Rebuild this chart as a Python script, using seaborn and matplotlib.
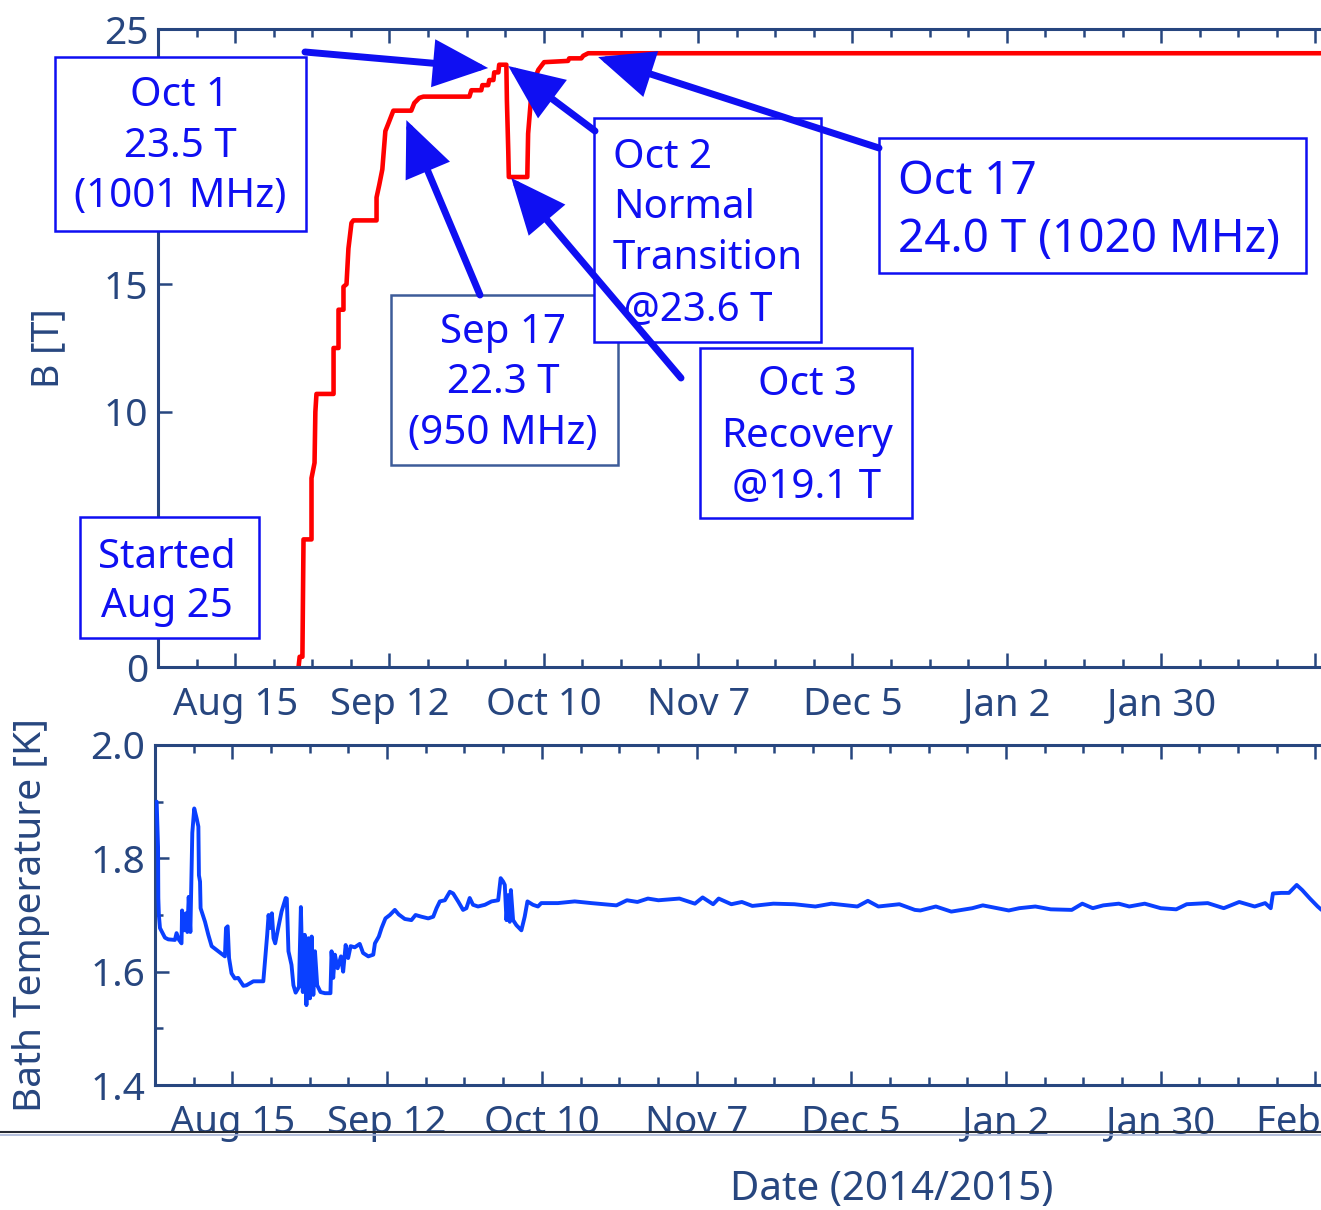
import matplotlib
matplotlib.use("Agg")
import matplotlib.pyplot as plt
import matplotlib.dates as mdates
from matplotlib.patches import Rectangle, FancyArrowPatch
from matplotlib.lines import Line2D
from matplotlib.ticker import NullLocator
import numpy as np
import pandas as pd
import seaborn as sns

# ---------------------------------------------------------------------------
# Data: days counted from 2014-08-01 00:00
# ---------------------------------------------------------------------------
START = pd.Timestamp("2014-08-01")

# Central field of the magnet [T]
field_day = [25.5, 25.7, 26.2, 26.4, 27.85, 27.85, 28.4, 28.55, 28.75, 31.85,
             31.85, 32.75, 32.75, 33.65, 33.65, 34.2, 34.55, 35.1, 35.45, 39.65,
             39.65, 40.15, 40.7, 41.25, 41.8, 42.7, 45.95, 46.5, 47.4, 48.15,
             56.5, 56.85, 58.65, 58.85, 59.9, 60.1, 60.85, 61.0, 61.75, 61.9,
             63.2, 63.3, 63.55, 63.65, 67.0, 67.15, 67.7, 68.25, 69.0, 70.05,
             74.4, 74.6, 76.8, 77.15, 78.05, 211.0]
field_tesla = [0.0, 0.4, 0.4, 5.0, 5.0, 7.4, 8.0, 10.0, 10.7, 10.7,
               12.5, 12.5, 14.0, 14.0, 14.9, 15.0, 16.4, 17.4, 17.5, 17.5,
               18.4, 18.9, 19.5, 21.0, 21.3, 21.8, 21.8, 22.1, 22.3, 22.35,
               22.35, 22.6, 22.6, 22.8, 22.8, 23.0, 23.0, 23.3, 23.3, 23.6,
               23.6, 22.2, 20.2, 19.2, 19.2, 20.9, 22.35, 23.0, 23.4, 23.7,
               23.75, 23.85, 23.85, 23.95, 24.05, 24.05]

# Helium bath temperature [K]
temp_day = [0.3, 0.55, 0.6, 0.7, 0.9, 1.8, 2.4, 3.6, 3.9, 4.35,
            4.8, 4.9, 5.25, 5.6, 5.85, 6.1, 6.4, 6.75, 7.1, 7.55,
            7.85, 7.95, 8.15, 8.25, 9.05, 9.65, 10.25, 11.45, 12.65, 12.85,
            13.15, 13.4, 13.85, 14.45, 15.05, 16.0, 16.55, 17.8, 19.6, 20.0,
            20.3, 20.55, 20.85, 21.15, 21.45, 21.75, 22.05, 22.9, 23.65, 23.85,
            24.15, 24.7, 25.05, 25.45, 26.05, 26.4, 26.75, 27.1, 27.4, 27.75,
            28.05, 28.35, 28.65, 28.95, 29.35, 29.95, 30.75, 31.75, 31.95, 32.25,
            32.55, 33.05, 33.65, 34.05, 34.5, 34.95, 35.4, 36.15, 37.05, 37.65,
            38.6, 39.5, 39.8, 40.5, 41.0, 41.7, 42.5, 43.4, 44.1, 45.2,
            46.4, 47.15, 48.2, 49.45, 50.35, 50.95, 51.55, 52.45, 53.35, 53.95,
            54.85, 55.75, 56.35, 56.95, 57.55, 58.45, 59.7, 60.9, 62.1, 62.55,
            63.0, 63.3, 63.6, 63.9, 64.2, 64.4, 64.8, 65.4, 66.3, 66.9,
            67.4, 68.4, 69.3, 69.9, 72.9, 75.95, 78.95, 83.5, 85.4, 87.3,
            89.2, 91.1, 94.9, 97.7, 99.1, 101.0, 102.0, 104.3, 106.2, 108.1,
            111.9, 115.7, 119.5, 122.4, 127.1, 129.0, 130.9, 134.7, 137.5, 138.5,
            141.3, 144.1, 147.9, 149.8, 154.5, 156.4, 159.3, 162.1, 165.9, 167.8,
            169.7, 171.6, 174.4, 176.3, 179.1, 182.0, 184.8, 186.7, 190.5, 193.4,
            196.2, 199.0, 200.9, 201.9, 202.3, 203.8, 205.2, 206.6, 207.6, 209.0,
            210.4, 211.1]
temp_kelvin = [1.900, 1.820, 1.730, 1.700, 1.677, 1.660, 1.657, 1.656, 1.668, 1.656,
               1.650, 1.708, 1.673, 1.703, 1.670, 1.732, 1.670, 1.845, 1.888, 1.870,
               1.856, 1.770, 1.759, 1.712, 1.688, 1.665, 1.645, 1.636, 1.627, 1.677,
               1.680, 1.624, 1.597, 1.588, 1.589, 1.575, 1.576, 1.583, 1.583, 1.629,
               1.665, 1.700, 1.677, 1.703, 1.659, 1.650, 1.665, 1.706, 1.730, 1.729,
               1.636, 1.612, 1.576, 1.563, 1.573, 1.714, 1.564, 1.665, 1.541, 1.659,
               1.553, 1.662, 1.559, 1.636, 1.576, 1.564, 1.562, 1.562, 1.636, 1.589,
               1.630, 1.606, 1.627, 1.600, 1.647, 1.624, 1.645, 1.643, 1.649, 1.633,
               1.627, 1.630, 1.650, 1.662, 1.677, 1.694, 1.700, 1.709, 1.701, 1.693,
               1.691, 1.700, 1.697, 1.694, 1.697, 1.712, 1.724, 1.726, 1.741, 1.738,
               1.724, 1.709, 1.712, 1.730, 1.718, 1.715, 1.718, 1.724, 1.726, 1.765,
               1.759, 1.753, 1.691, 1.735, 1.688, 1.744, 1.691, 1.682, 1.673, 1.697,
               1.724, 1.718, 1.715, 1.721, 1.721, 1.724, 1.721, 1.717, 1.726, 1.723,
               1.729, 1.726, 1.729, 1.720, 1.731, 1.719, 1.729, 1.719, 1.723, 1.716,
               1.720, 1.719, 1.715, 1.720, 1.715, 1.725, 1.715, 1.719, 1.709, 1.708,
               1.715, 1.706, 1.712, 1.717, 1.708, 1.712, 1.715, 1.710, 1.709, 1.720,
               1.712, 1.717, 1.720, 1.715, 1.720, 1.712, 1.710, 1.719, 1.721, 1.712,
               1.723, 1.715, 1.721, 1.712, 1.738, 1.739, 1.739, 1.753, 1.744, 1.729,
               1.715, 1.709]

tick_dates = ["2014-08-15", "2014-09-12", "2014-10-10", "2014-11-07",
              "2014-12-05", "2015-01-02", "2015-01-30", "2015-02-27"]
tick_labels = ["Aug 15", "Sep 12", "Oct 10", "Nov 7", "Dec 5", "Jan 2",
               "Jan 30", "Feb 27"]
field_ticks = [0, 5, 10, 15, 20, 25]
field_tick_labels = ["0", "", "10", "15", "", "25"]   # 5 and 20 sit under call-outs
temp_ticks = [1.4, 1.6, 1.8, 2.0]
temp_minor = [1.5, 1.7, 1.9]

# ---------------------------------------------------------------------------
W, H, DPI = 1321, 1210, 100
NAVY = "#27467f"
BLUE = "#0f0ff2"
RED = "#ff0000"
LINE_BLUE = "#0a40ff"


def fx(x):
    return x / W


def fy(y):
    return 1 - y / H


sns.set_theme(style="white")
plt.rcParams["font.family"] = ["Noto Sans", "DejaVu Sans"]

fig = plt.figure(figsize=(W / DPI, H / DPI), dpi=DPI)
fig.patch.set_facecolor("white")

ax_b = fig.add_axes([fx(158), fy(667), 1 - fx(158), fy(29) - fy(667)])
ax_t = fig.add_axes([fx(155), fy(1085), 1 - fx(155), fy(745) - fy(1085)])

field_dates = START + pd.to_timedelta(field_day, unit="D")
temp_dates = START + pd.to_timedelta(temp_day, unit="D")

sns.lineplot(x=field_dates, y=field_tesla, ax=ax_b, color=RED, linewidth=3.3,
             estimator=None, sort=False, legend=False)
sns.lineplot(x=temp_dates, y=temp_kelvin, ax=ax_t, color=LINE_BLUE, linewidth=2.8,
             estimator=None, sort=False, legend=False, zorder=3)

x_lo = START + pd.Timedelta(days=0.3)
x_hi = START + pd.Timedelta(days=211.0)
major_pos = pd.to_datetime(tick_dates)
minor_pos = pd.date_range("2014-08-01", "2015-03-01", freq="7D")

for ax in (ax_b, ax_t):
    ax.set_facecolor("white")
    ax.grid(False)
    for side in ("left", "top", "bottom"):
        ax.spines[side].set_visible(True)
        ax.spines[side].set_color(NAVY)
        ax.spines[side].set_linewidth(2.2)
    ax.spines["right"].set_visible(False)
    ax.set_xlim(x_lo, x_hi)
    ax.set_xticks(major_pos)
    ax.set_xticks(minor_pos, minor=True)
    ax.tick_params(which="both", direction="in", top=True, bottom=True,
                   left=True, right=False, color=NAVY, width=1.8,
                   labelcolor=NAVY)
    ax.tick_params(which="major", length=10)
    ax.tick_params(which="minor", length=5.5)
    ax.tick_params(axis="x", which="major", labelsize=27.5, pad=13.5)
    ax.tick_params(axis="y", which="major", pad=7, labelsize=28)
    ax.set_xlabel("")

ax_b.set_xticklabels(tick_labels[:-1] + [""])
ax_t.set_xticklabels(tick_labels)

ax_b.set_ylim(0, 25)
ax_b.set_yticks(field_ticks)
ax_b.set_yticklabels(field_tick_labels)
ax_b.yaxis.set_minor_locator(NullLocator())
ax_b.set_ylabel("B [T]", fontsize=27, color=NAVY)
ax_b.yaxis.set_label_coords(-(158 - 67) / (W - 158), 0.5)

ax_t.set_ylim(1.4, 2.0)
ax_t.set_yticks(temp_ticks)
ax_t.set_yticklabels([f"{v:.1f}" for v in temp_ticks])
ax_t.set_yticks(temp_minor, minor=True)
ax_t.set_ylabel("Bath Temperature [K]", fontsize=28, color=NAVY)
ax_t.yaxis.set_label_coords(-(155 - 50) / (W - 155), 0.5)

fig.text(fx(892), fy(1200), "Date (2014/2015)", ha="center", va="baseline",
         fontsize=29, color=NAVY)

# separator rule across the page
fig.add_artist(Line2D([0, 1], [fy(1132), fy(1132)], color="#262a33", lw=1.5, zorder=8))
fig.add_artist(Line2D([0, 1], [fy(1135), fy(1135)], color="#a8b5d8", lw=1.2, zorder=8))


# ---------------------------------------------------------------------------
# Call-out boxes and arrows
# ---------------------------------------------------------------------------
def add_box(x0, y0, x1, y1, edge=BLUE, z=3):
    fig.add_artist(Rectangle((fx(x0), fy(y1)), fx(x1) - fx(x0), fy(y0) - fy(y1),
                             transform=fig.transFigure,
                             facecolor="white", edgecolor=edge, linewidth=1.8,
                             zorder=z))


def add_lines(lines, x, baselines, ha="center", size=29):
    for s, yb in zip(lines, baselines):
        fig.text(fx(x), fy(yb), s, ha=ha, va="baseline", fontsize=size,
                 color=BLUE, zorder=5)


def add_arrow(tail, tip_day, tip_value):
    # arrow head sits on the field curve, given in data units
    tip_num = mdates.date2num(START + pd.Timedelta(days=tip_day))
    tip_disp = ax_b.transData.transform((tip_num, tip_value))
    tip_fig = fig.transFigure.inverted().transform(tip_disp)
    arrow = FancyArrowPatch(posA=(fx(tail[0]), fy(tail[1])),
                            posB=(tip_fig[0], tip_fig[1]),
                            transform=fig.transFigure,
                            arrowstyle="-|>,head_length=31,head_width=13.5",
                            mutation_scale=1, color=BLUE, linewidth=5,
                            shrinkA=0, shrinkB=0, joinstyle="miter",
                            zorder=6)
    fig.add_artist(arrow)


add_box(55, 57, 306, 231)
add_lines(["Oct 1", "23.5 T", "(1001 MHz)"], 180, [106, 157, 207])

add_box(391, 295, 618, 465, edge="#3d5c99")
add_lines(["Sep 17", "22.3 T", "(950 MHz)"], 503, [343, 393, 444])

add_box(594, 118, 821, 342, z=4)
add_lines(["Oct 2", "Normal", "Transition", " @23.6 T"], 613, [168, 218, 269, 320],
          ha="left")

add_box(700, 348, 912, 518)
add_lines(["Oct 3", "Recovery", "@19.1 T"], 807, [395, 447, 497])

add_box(879, 138, 1306, 273)
add_lines(["Oct 17", "24.0 T (1020 MHz)"], 898, [194, 252], ha="left", size=33)

add_box(80, 517, 259, 638)
add_lines(["Started", "Aug 25"], 167, [568, 617])

add_arrow((305, 52), 59.9, 23.47)
add_arrow((480, 295), 45.06, 21.43)
add_arrow((595, 131), 63.55, 23.55)
add_arrow((681, 378), 64.1, 19.16)
add_arrow((879, 148), 79.86, 23.9)

fig.savefig("out.png", dpi=DPI, facecolor="white")
